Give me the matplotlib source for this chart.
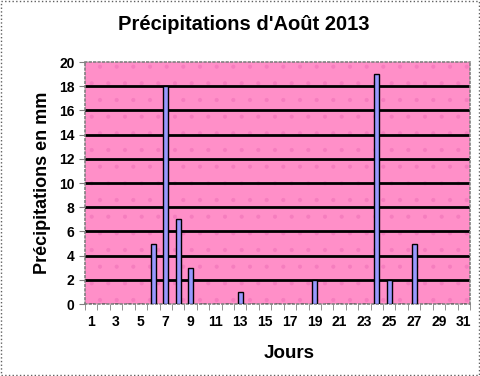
import matplotlib.pyplot as plt
import numpy as np
import matplotlib.patches as mpatches

# Données: précipitations journalières (mm), août 2013
jours = list(range(1, 32))
pluie = [0, 0, 0, 0, 0, 5, 18, 7, 3, 0, 0, 0, 1, 0, 0, 0, 0, 0, 2, 0,
         0, 0, 0, 19, 2, 0, 5, 0, 0, 0, 0]
y_ticks = list(range(0, 21, 2))

plt.rcParams['font.family'] = ['Liberation Sans', 'DejaVu Sans']
plt.rcParams['hatch.linewidth'] = 0.5

fig = plt.figure(figsize=(4.81, 3.76), dpi=100)
ax = fig.add_axes([85 / 481, 72 / 376, 385 / 481, 242 / 376])

# fond rose avec motif pointillé
ax.set_facecolor('#FF8FC8')
ax.add_patch(mpatches.Rectangle((0.5, 0), 31, 20, facecolor='none',
                                edgecolor='#F57DBE', hatch='.', linewidth=0, zorder=0.5))

# lignes horizontales noires
for y in y_ticks[1:-1]:
    ax.axhline(y, color='black', linewidth=2, zorder=1)

ax.bar(jours, pluie, width=0.42, color='#9999FF', edgecolor='black',
       linewidth=1, zorder=3)

ax.set_xlim(0.5, 31.5)
ax.set_ylim(0, 20)
ax.set_yticks(y_ticks)
ax.set_xticks(jours[::2])
ax.set_xticks(np.arange(0.5, 32, 1), minor=True)
ax.tick_params(axis='x', which='major', length=0, pad=8)
ax.tick_params(axis='x', which='minor', length=4, color='#808080', direction='out')
ax.tick_params(axis='y', length=4, color='#808080', direction='out')
for lab in ax.get_xticklabels() + ax.get_yticklabels():
    lab.set_fontweight('bold')
    lab.set_fontsize(10)

for s in ax.spines.values():
    s.set_color('#808080')
    s.set_linestyle(':')
    s.set_linewidth(1.2)

ax.set_xlabel('Jours', fontsize=13.5, fontweight='bold', labelpad=10)
ax.xaxis.set_label_coords(0.53, -0.17)
ax.set_ylabel('Précipitations en mm', fontsize=13, fontweight='bold', labelpad=6)
fig.text(244 / 481, 1 - 25 / 376, "Précipitations d'Août 2013", ha='center', va='center',
         fontsize=14.5, fontweight='bold')

# cadre pointillé autour du graphique
fig.patches.append(mpatches.Rectangle((0.002, 0.003), 0.994, 0.994, transform=fig.transFigure,
                                      fill=False, edgecolor='#606060', linestyle=':', linewidth=1))

fig.savefig('out.png', dpi=100)
